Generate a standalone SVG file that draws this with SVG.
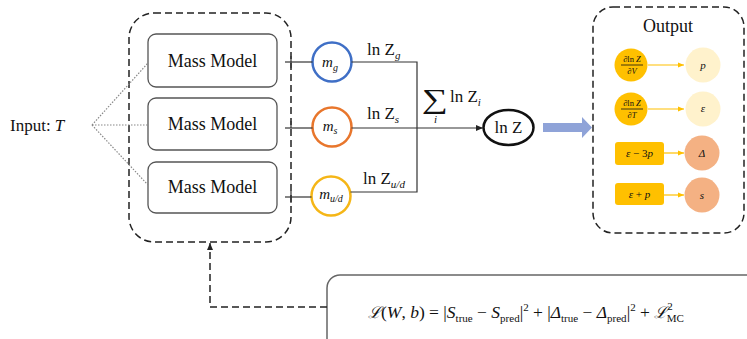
<svg xmlns="http://www.w3.org/2000/svg" width="747" height="339" viewBox="0 0 747 339">
<style>
text{font-family:"Liberation Serif","DejaVu Serif",serif;fill:#111}
.it{font-style:italic}
.dash{fill:none;stroke:#222;stroke-width:1.5;stroke-dasharray:7 4}
.box{fill:#fff;stroke:#555;stroke-width:1.3}
.ln{fill:none;stroke:#333;stroke-width:1.2}
.dot{fill:none;stroke:#888;stroke-width:1.2;stroke-dasharray:1.5 1.5}
.gold{fill:#FFC000}
.pale{fill:#FFF2CC}
.sal{fill:#F4B183}
.ga{stroke:#FFC000;stroke-width:1.2;fill:none}
</style>
<defs>
<marker id="ah" markerWidth="8" markerHeight="8" refX="7" refY="4" orient="auto" markerUnits="userSpaceOnUse"><path d="M0,1 L7,4 L0,7 Z" fill="#222"/></marker>
<marker id="gah" markerWidth="8" markerHeight="8" refX="6" refY="3.5" orient="auto" markerUnits="userSpaceOnUse"><path d="M0,1 L6,3.5 L0,6 Z" fill="#FFC000"/></marker>
</defs>

<g id="input"><text x="10" y="131" font-size="17">Input: <tspan class="it">T</tspan></text></g>

<g id="model-container"><rect class="dash" x="129" y="13" width="162" height="229" rx="25"/></g>
<g id="mass-model-1"><rect class="box" x="148" y="34" width="129" height="53" rx="8"/><text x="212.5" y="67" font-size="18" text-anchor="middle">Mass Model</text></g>
<g id="mass-model-2"><rect class="box" x="148" y="98" width="129" height="52" rx="8"/><text x="212.5" y="130" font-size="18" text-anchor="middle">Mass Model</text></g>
<g id="mass-model-3"><rect class="box" x="148" y="162" width="129" height="51" rx="8"/><text x="212.5" y="193" font-size="18" text-anchor="middle">Mass Model</text></g>

<g id="m-g"><circle cx="332" cy="62" r="19.5" fill="#fff" stroke="#3F6FC6" stroke-width="2.5"/><text x="330" y="67" font-size="15" text-anchor="middle" class="it">m<tspan font-size="10" dy="4">g</tspan></text></g>
<g id="m-s"><circle cx="332" cy="127" r="19.5" fill="#fff" stroke="#E8762C" stroke-width="2.5"/><text x="330" y="131" font-size="15" text-anchor="middle" class="it">m<tspan font-size="10" dy="3">s</tspan></text></g>
<g id="m-ud"><circle cx="331" cy="196" r="19.5" fill="#fff" stroke="#F5B617" stroke-width="2.5"/><text x="331" y="199" font-size="15" text-anchor="middle" class="it">m<tspan font-size="10" dy="3">u/d</tspan></text></g>

<g id="lnZ"><ellipse cx="508.5" cy="127.5" rx="25" ry="17.5" fill="#fff" stroke="#111" stroke-width="2.5"/><text x="508.5" y="133" font-size="17" text-anchor="middle">ln Z</text></g>

<g id="output-container"><rect class="dash" x="593" y="7" width="151" height="226" rx="20"/><text x="668" y="32" font-size="18" text-anchor="middle">Output</text></g>
<g id="dlnZdV"><circle class="gold" cx="631" cy="65" r="16.5"/><text x="632" y="62" font-size="8.5" text-anchor="middle">∂ln <tspan class="it">Z</tspan></text><line x1="621" y1="65" x2="643" y2="65" stroke="#111" stroke-width="0.8"/><text x="632" y="74" font-size="8.5" text-anchor="middle">∂<tspan class="it">V</tspan></text></g>
<g id="p"><circle class="pale" cx="703" cy="65" r="17.5"/><text x="703" y="69" font-size="11" class="it" text-anchor="middle">p</text></g>
<g id="dlnZdT"><circle class="gold" cx="631" cy="109" r="16.5"/><text x="632" y="106" font-size="8.5" text-anchor="middle">∂ln <tspan class="it">Z</tspan></text><line x1="621" y1="109" x2="643" y2="109" stroke="#111" stroke-width="0.8"/><text x="632" y="118" font-size="8.5" text-anchor="middle">∂<tspan class="it">T</tspan></text></g>
<g id="eps"><circle class="pale" cx="703" cy="109" r="17.5"/><text x="703" y="112" font-size="11" class="it" text-anchor="middle">ε</text></g>
<g id="eps-3p"><rect class="gold" x="615" y="142" width="49" height="23" rx="3"/><text x="639.5" y="157" font-size="11" text-anchor="middle"><tspan class="it">ε</tspan> − 3<tspan class="it">p</tspan></text></g>
<g id="Delta"><circle class="sal" cx="702" cy="153" r="17.5"/><text x="702" y="157" font-size="11" class="it" text-anchor="middle">Δ</text></g>
<g id="eps+p"><rect class="gold" x="615" y="183" width="49" height="22" rx="3"/><text x="639.5" y="198" font-size="11" text-anchor="middle"><tspan class="it">ε</tspan> + <tspan class="it">p</tspan></text></g>
<g id="s"><circle class="sal" cx="702" cy="195" r="17.5"/><text x="702" y="199" font-size="11" class="it" text-anchor="middle">s</text></g>

<g id="loss"><rect x="327" y="275" width="440" height="90" rx="13" fill="#fff" stroke="#666" stroke-width="1.5"/>
<text x="368" y="318" font-size="17.5"><tspan class="it" font-family="DejaVu Serif" font-size="16">ℒ</tspan>(<tspan class="it">W</tspan>, <tspan class="it">b</tspan>) = |<tspan class="it">S</tspan><tspan font-size="11" dy="4">true</tspan><tspan dy="-4"> − </tspan><tspan class="it">S</tspan><tspan font-size="11" dy="4">pred</tspan><tspan dy="-4">|</tspan><tspan font-size="11" dy="-7">2</tspan><tspan dy="7"> + |</tspan><tspan class="it">Δ</tspan><tspan font-size="11" dy="4">true</tspan><tspan dy="-4"> − </tspan><tspan class="it">Δ</tspan><tspan font-size="11" dy="4">pred</tspan><tspan dy="-4">|</tspan><tspan font-size="11" dy="-7">2</tspan><tspan dy="7"> + </tspan><tspan class="it" font-family="DejaVu Serif" font-size="16">ℒ</tspan><tspan font-size="11" dy="-8">2</tspan><tspan font-size="11" dx="-6" dy="12">MC</tspan></text></g>

<g id="connectors">
<line class="dot" x1="92" y1="125" x2="148" y2="63"/>
<line class="dot" x1="92" y1="125" x2="148" y2="125"/>
<line class="dot" x1="92" y1="125" x2="148" y2="185"/>
<line class="ln" x1="285" y1="62" x2="312.5" y2="62"/>
<line class="ln" x1="285" y1="128" x2="312.5" y2="128"/>
<line class="ln" x1="285" y1="197" x2="311.5" y2="197"/>
<line class="ln" x1="291" y1="56" x2="291" y2="68"/>
<line class="ln" x1="291" y1="121" x2="291" y2="128"/>
<line class="ln" x1="291" y1="191" x2="291" y2="203"/>
<polyline class="ln" points="351.5,62 417,62 417,192 350.5,192"/>
<line class="ln" x1="351.5" y1="128" x2="483" y2="128" marker-end="url(#ah)"/>
<text x="367" y="55" font-size="17">ln <tspan>Z</tspan><tspan font-size="11" class="it" dy="4">g</tspan></text>
<text x="367" y="119" font-size="17">ln Z<tspan font-size="11" class="it" dy="4">s</tspan></text>
<text x="363" y="184" font-size="17">ln Z<tspan font-size="11" class="it" dy="4">u/d</tspan></text>
<text transform="translate(422,108) scale(1.35,1)" font-size="27" font-family="DejaVu Serif">∑</text>
<text x="450" y="102" font-size="17">ln Z<tspan font-size="11" class="it" dy="4">i</tspan></text>
<text x="434" y="123" font-size="11" class="it">i</text>
<path d="M543,123 L582,123 L582,117 L592,127.5 L582,138 L582,132 L543,132 Z" fill="#8FA3D8"/>
<polyline class="dash" points="327,307 210,307 210,250"/>
<line x1="210" y1="250" x2="210" y2="243" stroke="#222" stroke-width="1.3" marker-end="url(#ah)"/>
<line class="ga" x1="648" y1="65" x2="684" y2="65" marker-end="url(#gah)"/>
<line class="ga" x1="648" y1="109" x2="684" y2="109" marker-end="url(#gah)"/>
<line class="ga" x1="664" y1="153" x2="684" y2="153" marker-end="url(#gah)"/>
<line class="ga" x1="664" y1="195" x2="684" y2="195" marker-end="url(#gah)"/>
</g>
</svg>
